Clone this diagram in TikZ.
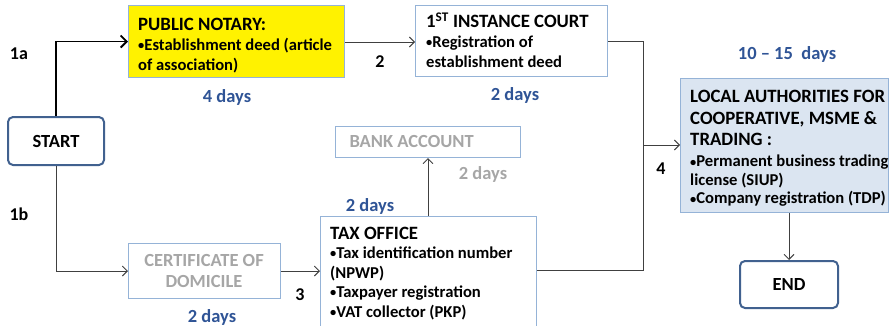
\documentclass[tikz,border=0pt]{standalone}
\usepackage{fontspec}
\usepackage{graphicx}
\setmainfont{Carlito}
\usetikzlibrary{arrows.meta,positioning}
\definecolor{darkbord}{HTML}{41618F}
\definecolor{lightbord}{HTML}{95B3D7}
\definecolor{daysblue}{HTML}{2F5496}
\definecolor{greytxt}{HTML}{A6A6A6}
\definecolor{lafill}{HTML}{DBE5F1}
\definecolor{linegrey}{HTML}{404040}
\newcommand{\ttlfont}{\fontsize{18.8}{20}\selectfont}
\newcommand{\blt}{\raisebox{0.8pt}{\scalebox{0.75}{•}}}
\tikzset{
  x=1pt, y=-1pt,
  every node/.style={font=\bfseries},
  endbox/.style={draw=darkbord, line width=2pt, rounded corners=5pt, font=\bfseries\fontsize{18.5}{20}\selectfont},
  plainbox/.style={draw=lightbord, line width=1pt, anchor=north west, inner sep=0pt},
  boxtext/.style={anchor=north west, align=left, inner sep=0pt, font=\bfseries\fontsize{16.6}{20}\selectfont},
  greytext/.style={text=greytxt, font=\bfseries\fontsize{18.5}{21}\selectfont},
  days/.style={text=daysblue, font=\bfseries\fontsize{18.5}{20}\selectfont},
  num/.style={font=\bfseries\fontsize{18}{20}\selectfont},
  conn/.style={draw=linegrey, line width=0.9pt, -{Straight Barb[length=5pt,width=10pt]}},
  plainconn/.style={draw=linegrey, line width=0.9pt},
  thickconn/.style={draw=black, line width=1.8pt, -{Straight Barb[length=6pt,width=12pt]}},
}
\begin{document}
\begin{tikzpicture}
\useasboundingbox (0,0) rectangle (889,325);
% boxes
\node[endbox, minimum width=96pt, minimum height=48pt] (start) at (56,141) {START};
\node[endbox, minimum width=98pt, minimum height=47pt] (end) at (789,284.5) {END};
\node[plainbox, fill=yellow, minimum width=216pt, minimum height=72pt] (pn) at (128,5) {};
\node[boxtext] (pnt) at (138,17.5) {{\ttlfont PUBLIC NOTARY:}\\\blt Establishment deed (article\\of association)};
\node[plainbox, fill=white, minimum width=192pt, minimum height=71pt] (court) at (415,5) {};
\node[boxtext] (courtt) at (426,12.5) {{\ttlfont 1\textsuperscript{ST} INSTANCE COURT}\\\blt Registration of\\establishment deed};
\node[plainbox, minimum width=185pt, minimum height=31pt] (bank) at (335,126) {};
\node[greytext, anchor=west] (bankt) at (346,141.5) {BANK ACCOUNT};
\node[plainbox, minimum width=152pt, minimum height=55pt] (cert) at (128,243) {};
\node[greytext, align=center] (certt) at (204,270.5) {CERTIFICATE OF\\DOMICILE};
\node[plainbox, fill=white, minimum width=216pt, minimum height=120pt] (tax) at (320,216) {};
\node[boxtext, font=\bfseries\fontsize{16.6}{19.5}\selectfont] (taxt) at (330,226.5) {{\ttlfont TAX OFFICE}\\\blt Tax identification number\\(NPWP)\\\blt Taxpayer registration\\\blt VAT collector (PKP)};
\node[plainbox, fill=lafill, minimum width=208pt, minimum height=134pt] (la) at (680,78) {};
\node[boxtext, font=\bfseries\fontsize{18.8}{21.5}\selectfont] (lat) at (690,90) {LOCAL AUTHORITIES FOR\\COOPERATIVE, MSME \&\\TRADING :};
\node[boxtext, font=\bfseries\fontsize{16.6}{18.5}\selectfont] (lab) at (690,155) {\blt Permanent business trading\\license (SIUP)\\\blt Company registration (TDP)};
% labels
\node[num] (l1a) at (19,54) {1a};
\node[num] (l1b) at (19,214) {1b};
\node[num] (l2) at (380,62) {2};
\node[num] (l3) at (300,295) {3};
\node[num] (l4) at (661,169) {4};
\node[days] (d1) at (227,97) {4 days};
\node[days] (d2) at (515,95) {2 days};
\node[days] (d3) at (787,54) {10 – 15\ \ days};
\node[days] (d4) at (370,206) {2 days};
\node[greytext] (d5) at (483,174) {2 days};
\node[days] (d6) at (212,317) {2 days};
% connectors
\coordinate (j4) at (643,145);
\draw[thickconn] (start.north) |- (pn.west);
\draw[conn] (start.south) |- (cert.west);
\draw[conn] (pn.east |- 0,42) -- (court.west |- 0,42);
\draw[conn] (cert.east |- 0,271) -- (tax.west |- 0,271);
\draw[conn] (tax.north -| 428,0) -- (bank.south -| 428,0);
\draw[plainconn] (court.east |- 0,41) -| (j4);
\draw[plainconn] (tax.east |- 0,270) -| (j4);
\draw[conn] (j4) -- (la.west |- j4);
\draw[conn] (la.south -| end.north) -- (end.north);
\end{tikzpicture}
\end{document}
